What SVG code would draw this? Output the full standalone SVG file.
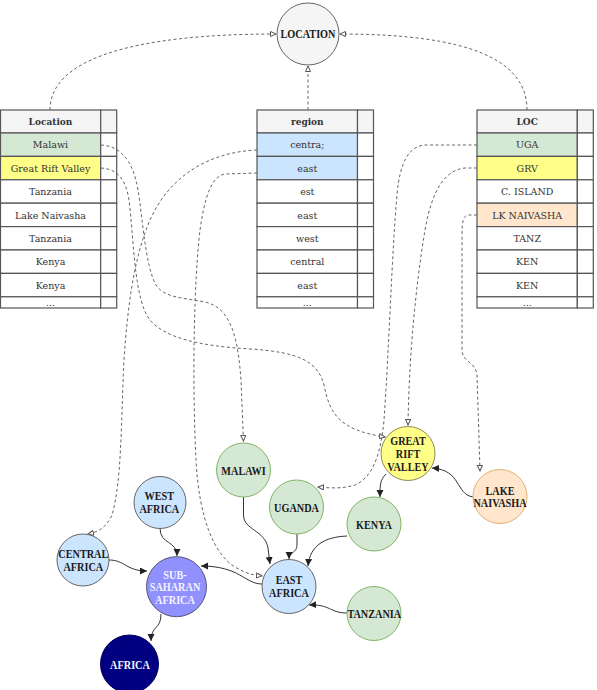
<svg xmlns="http://www.w3.org/2000/svg" width="597" height="690" viewBox="0 0 597 690">
<style>
.bg{fill:#ffffff}
.tb{fill:#ffffff;stroke:#555555;stroke-width:1.2}
.hd{fill:#f5f5f5;stroke:#555555;stroke-width:1.2}
.gr{fill:#d5e8d4;stroke:#555555;stroke-width:1.2}
.ye{fill:#ffff88;stroke:#555555;stroke-width:1.2}
.bl{fill:#cce5ff;stroke:#555555;stroke-width:1.2}
.or{fill:#ffe6cc;stroke:#555555;stroke-width:1.2}
.tt{font-family:"DejaVu Serif",serif;font-size:9.5px;fill:#333333;text-anchor:middle}
.th{font-family:"DejaVu Serif",serif;font-size:9px;font-weight:bold;fill:#333333;text-anchor:middle}
.nl{font-family:"Liberation Serif",serif;font-size:11.5px;font-weight:bold;fill:#1a1a1a;text-anchor:middle}
.nw{font-family:"Liberation Serif",serif;font-size:11.5px;font-weight:bold;fill:#f4f4ff;text-anchor:middle}
.cg{fill:#d5e8d4;stroke:#82b366;stroke-width:1}
.cy{fill:#ffff88;stroke:#8a8a55;stroke-width:1}
.cb{fill:#cce5ff;stroke:#666666;stroke-width:1}
.co{fill:#ffe6cc;stroke:#e0b070;stroke-width:1}
.cs{fill:#9090ff;stroke:#555577;stroke-width:1}
.cn{fill:#000080;stroke:#000060;stroke-width:1}
.cl{fill:#f5f5f5;stroke:#666666;stroke-width:1}
.dash{fill:none;stroke:#666666;stroke-width:1;stroke-dasharray:3 2.5;marker-end:url(#open)}
.sol{fill:none;stroke:#333333;stroke-width:1;marker-end:url(#fill)}
</style>
<defs>
<marker id="open" markerUnits="userSpaceOnUse" markerWidth="8" markerHeight="8" refX="6" refY="3" orient="auto">
<path d="M0.5,0.5 L6,3 L0.5,5.5 z" fill="#ffffff" stroke="#555555" stroke-width="1"/>
</marker>
<marker id="fill" markerUnits="userSpaceOnUse" markerWidth="9" markerHeight="9" refX="7" refY="3.5" orient="auto">
<path d="M0,0 L7,3.5 L0,7 z" fill="#222222"/>
</marker>
</defs>
<rect class="bg" x="0" y="0" width="597" height="690"/>

<g id="table-location">
<rect class="hd" x="0.5" y="110" width="100.2" height="23"/><rect class="hd" x="100.7" y="110" width="16" height="23"/>
<rect class="gr" x="0.5" y="133" width="100.2" height="23.4"/><rect class="tb" x="100.7" y="133" width="16" height="23.4"/>
<rect class="ye" x="0.5" y="156.4" width="100.2" height="23.4"/><rect class="tb" x="100.7" y="156.4" width="16" height="23.4"/>
<rect class="tb" x="0.5" y="179.8" width="100.2" height="23.4"/><rect class="tb" x="100.7" y="179.8" width="16" height="23.4"/>
<rect class="tb" x="0.5" y="203.2" width="100.2" height="23.4"/><rect class="tb" x="100.7" y="203.2" width="16" height="23.4"/>
<rect class="tb" x="0.5" y="226.6" width="100.2" height="23.4"/><rect class="tb" x="100.7" y="226.6" width="16" height="23.4"/>
<rect class="tb" x="0.5" y="250" width="100.2" height="23.4"/><rect class="tb" x="100.7" y="250" width="16" height="23.4"/>
<rect class="tb" x="0.5" y="273.4" width="100.2" height="23.4"/><rect class="tb" x="100.7" y="273.4" width="16" height="23.4"/>
<rect class="tb" x="0.5" y="296.8" width="100.2" height="11.2"/><rect class="tb" x="100.7" y="296.8" width="16" height="11.2"/>
<text class="th" x="50.5" y="125">Location</text>
<text class="tt" x="50.5" y="148">Malawi</text>
<text class="tt" x="50.5" y="171.5">Great Rift Valley</text>
<text class="tt" x="50.5" y="195">Tanzania</text>
<text class="tt" x="50.5" y="218.5">Lake Naivasha</text>
<text class="tt" x="50.5" y="241.8">Tanzania</text>
<text class="tt" x="50.5" y="265.2">Kenya</text>
<text class="tt" x="50.5" y="288.6">Kenya</text>
<text class="tt" x="50.5" y="306" fill="#888888">...</text>
</g>

<g id="table-region">
<rect class="hd" x="257" y="110" width="100.5" height="23"/><rect class="hd" x="357.5" y="110" width="16" height="23"/>
<rect class="bl" x="257" y="133" width="100.5" height="23.4"/><rect class="tb" x="357.5" y="133" width="16" height="23.4"/>
<rect class="bl" x="257" y="156.4" width="100.5" height="23.4"/><rect class="tb" x="357.5" y="156.4" width="16" height="23.4"/>
<rect class="tb" x="257" y="179.8" width="100.5" height="23.4"/><rect class="tb" x="357.5" y="179.8" width="16" height="23.4"/>
<rect class="tb" x="257" y="203.2" width="100.5" height="23.4"/><rect class="tb" x="357.5" y="203.2" width="16" height="23.4"/>
<rect class="tb" x="257" y="226.6" width="100.5" height="23.4"/><rect class="tb" x="357.5" y="226.6" width="16" height="23.4"/>
<rect class="tb" x="257" y="250" width="100.5" height="23.4"/><rect class="tb" x="357.5" y="250" width="16" height="23.4"/>
<rect class="tb" x="257" y="273.4" width="100.5" height="23.4"/><rect class="tb" x="357.5" y="273.4" width="16" height="23.4"/>
<rect class="tb" x="257" y="296.8" width="100.5" height="11.2"/><rect class="tb" x="357.5" y="296.8" width="16" height="11.2"/>
<text class="th" x="307.3" y="125">region</text>
<text class="tt" x="307.3" y="148">centra;</text>
<text class="tt" x="307.3" y="171.5">east</text>
<text class="tt" x="307.3" y="195">est</text>
<text class="tt" x="307.3" y="218.5">east</text>
<text class="tt" x="307.3" y="241.8">west</text>
<text class="tt" x="307.3" y="265.2">central</text>
<text class="tt" x="307.3" y="288.6">east</text>
<text class="tt" x="307.3" y="306" fill="#888888">...</text>
</g>

<g id="table-loc">
<rect class="hd" x="477" y="110" width="100.3" height="23"/><rect class="hd" x="577.3" y="110" width="16" height="23"/>
<rect class="gr" x="477" y="133" width="100.3" height="23.4"/><rect class="tb" x="577.3" y="133" width="16" height="23.4"/>
<rect class="ye" x="477" y="156.4" width="100.3" height="23.4"/><rect class="tb" x="577.3" y="156.4" width="16" height="23.4"/>
<rect class="tb" x="477" y="179.8" width="100.3" height="23.4"/><rect class="tb" x="577.3" y="179.8" width="16" height="23.4"/>
<rect class="or" x="477" y="203.2" width="100.3" height="23.4"/><rect class="tb" x="577.3" y="203.2" width="16" height="23.4"/>
<rect class="tb" x="477" y="226.6" width="100.3" height="23.4"/><rect class="tb" x="577.3" y="226.6" width="16" height="23.4"/>
<rect class="tb" x="477" y="250" width="100.3" height="23.4"/><rect class="tb" x="577.3" y="250" width="16" height="23.4"/>
<rect class="tb" x="477" y="273.4" width="100.3" height="23.4"/><rect class="tb" x="577.3" y="273.4" width="16" height="23.4"/>
<rect class="tb" x="477" y="296.8" width="100.3" height="11.2"/><rect class="tb" x="577.3" y="296.8" width="16" height="11.2"/>
<text class="th" x="527.2" y="125">LOC</text>
<text class="tt" x="527.2" y="148">UGA</text>
<text class="tt" x="527.2" y="171.5">GRV</text>
<text class="tt" x="527.2" y="195">C. ISLAND</text>
<text class="tt" x="527.2" y="218.5">LK NAIVASHA</text>
<text class="tt" x="527.2" y="241.8">TANZ</text>
<text class="tt" x="527.2" y="265.2">KEN</text>
<text class="tt" x="527.2" y="288.6">KEN</text>
<text class="tt" x="527.2" y="306" fill="#888888">...</text>
</g>

<g id="connectors">
<path class="dash" d="M50 110 C50 60 130 34 276 34"/>
<path class="dash" d="M308 110 L308 66"/>
<path class="dash" d="M527 110 C527 60 470 34 340 34"/>
<path class="dash" d="M101 145 C120 146 133 160 138 190 C143 220 145 265 156 285 C164 298 185 298 205 302 C232 308 238 340 241 380 L243.5 441"/>
<path class="dash" d="M101 168 C118 169 126 180 129 200 C134 240 134 300 150 320 C165 338 200 346 250 349 C300 352 318 362 324 385 C330 415 340 430 385 437"/>
<path class="dash" d="M257 150 C210 152 170 175 150 220 C135 255 128 300 124 360 C121 420 122 480 112 515 C106 528 98 532 88 534"/>
<path class="dash" d="M257 173 L225 174 C212 176 205 195 200 230 C194 280 192 380 196 460 C199 520 215 555 235 567 C245 573 252 575 262 576"/>
<path class="dash" d="M477 145 L425 145 C410 146 400 160 397 195 C392 250 389 350 384 420 C381 455 372 478 355 485 C342 489 330 488 318 487"/>
<path class="dash" d="M477 168 L465 168 C445 170 432 190 425 230 C415 290 409 360 408 425"/>
<path class="dash" d="M477 215 L468 215 C463 216 462 222 462 235 L462 350 C462 362 476 362 477 375 L480 471"/>
<path class="sol" d="M386 474 C380 480 380 485 380 497"/>
<path class="sol" d="M473 497 C455 494 462 470 432 468"/>
<path class="sol" d="M243.5 497 L243.5 515 C243.5 530 265 530 268 548 L270 564"/>
<path class="sol" d="M297 534 L297 545 C297 553 289 552 289 559"/>
<path class="sol" d="M347 536 C325 537 310 545 308 566"/>
<path class="sol" d="M347 613 C330 613 330 604 309 605"/>
<path class="sol" d="M262 584 C245 584 240 566 201 566"/>
<path class="sol" d="M160 528 C160 545 177 540 177 556"/>
<path class="sol" d="M109 560 C125 560 126 571 147 571"/>
<path class="sol" d="M161 614 C161 630 151 625 151 641"/>
</g>

<g id="node-location"><circle class="cl" cx="308" cy="34" r="31"/><text class="nl" transform="translate(308 37.8) scale(0.89 1)">LOCATION</text></g>
<g id="node-great-rift-valley"><circle class="cy" cx="408" cy="453.5" r="27"/><text class="nl" transform="translate(408 445) scale(0.89 1)">GREAT</text><text class="nl" transform="translate(408 457.8) scale(0.89 1)">RIFT</text><text class="nl" transform="translate(408 470.6) scale(0.89 1)">VALLEY</text></g>
<g id="node-malawi"><circle class="cg" cx="243.5" cy="470" r="27"/><text class="nl" transform="translate(243.5 474.8) scale(0.89 1)">MALAWI</text></g>
<g id="node-uganda"><circle class="cg" cx="296.5" cy="507" r="27"/><text class="nl" transform="translate(296.5 511.5) scale(0.89 1)">UGANDA</text></g>
<g id="node-kenya"><circle class="cg" cx="374" cy="524" r="27"/><text class="nl" transform="translate(374 528.8) scale(0.89 1)">KENYA</text></g>
<g id="node-lake-naivasha"><circle class="co" cx="500" cy="496.5" r="27"/><text class="nl" transform="translate(500 494.6) scale(0.89 1)">LAKE</text><text class="nl" transform="translate(500 507.4) scale(0.89 1)">NAIVASHA</text></g>
<g id="node-east-africa"><circle class="cb" cx="289" cy="586.5" r="27"/><text class="nl" transform="translate(289 584.4) scale(0.89 1)">EAST</text><text class="nl" transform="translate(289 597.2) scale(0.89 1)">AFRICA</text></g>
<g id="node-tanzania"><circle class="cg" cx="374" cy="613.5" r="27"/><text class="nl" transform="translate(374.3 617.8) scale(0.89 1)">TANZANIA</text></g>
<g id="node-west-africa"><circle class="cb" cx="160" cy="502.5" r="26"/><text class="nl" transform="translate(159.3 500.2) scale(0.89 1)">WEST</text><text class="nl" transform="translate(159.3 513) scale(0.89 1)">AFRICA</text></g>
<g id="node-central-africa"><circle class="cb" cx="83" cy="560" r="26"/><text class="nl" transform="translate(83.3 557.7) scale(0.89 1)">CENTRAL</text><text class="nl" transform="translate(83.3 570.5) scale(0.89 1)">AFRICA</text></g>
<g id="node-sub-saharan-africa"><circle class="cs" cx="176.5" cy="586.7" r="30"/><text class="nw" transform="translate(175 578.5) scale(0.89 1)">SUB-</text><text class="nw" transform="translate(175 591.3) scale(0.89 1)">SAHARAN</text><text class="nw" transform="translate(175 604.1) scale(0.89 1)">AFRICA</text></g>
<g id="node-africa"><circle class="cn" cx="129.5" cy="664" r="29"/><text class="nw" transform="translate(130 668.8) scale(0.89 1)">AFRICA</text></g>
</svg>
